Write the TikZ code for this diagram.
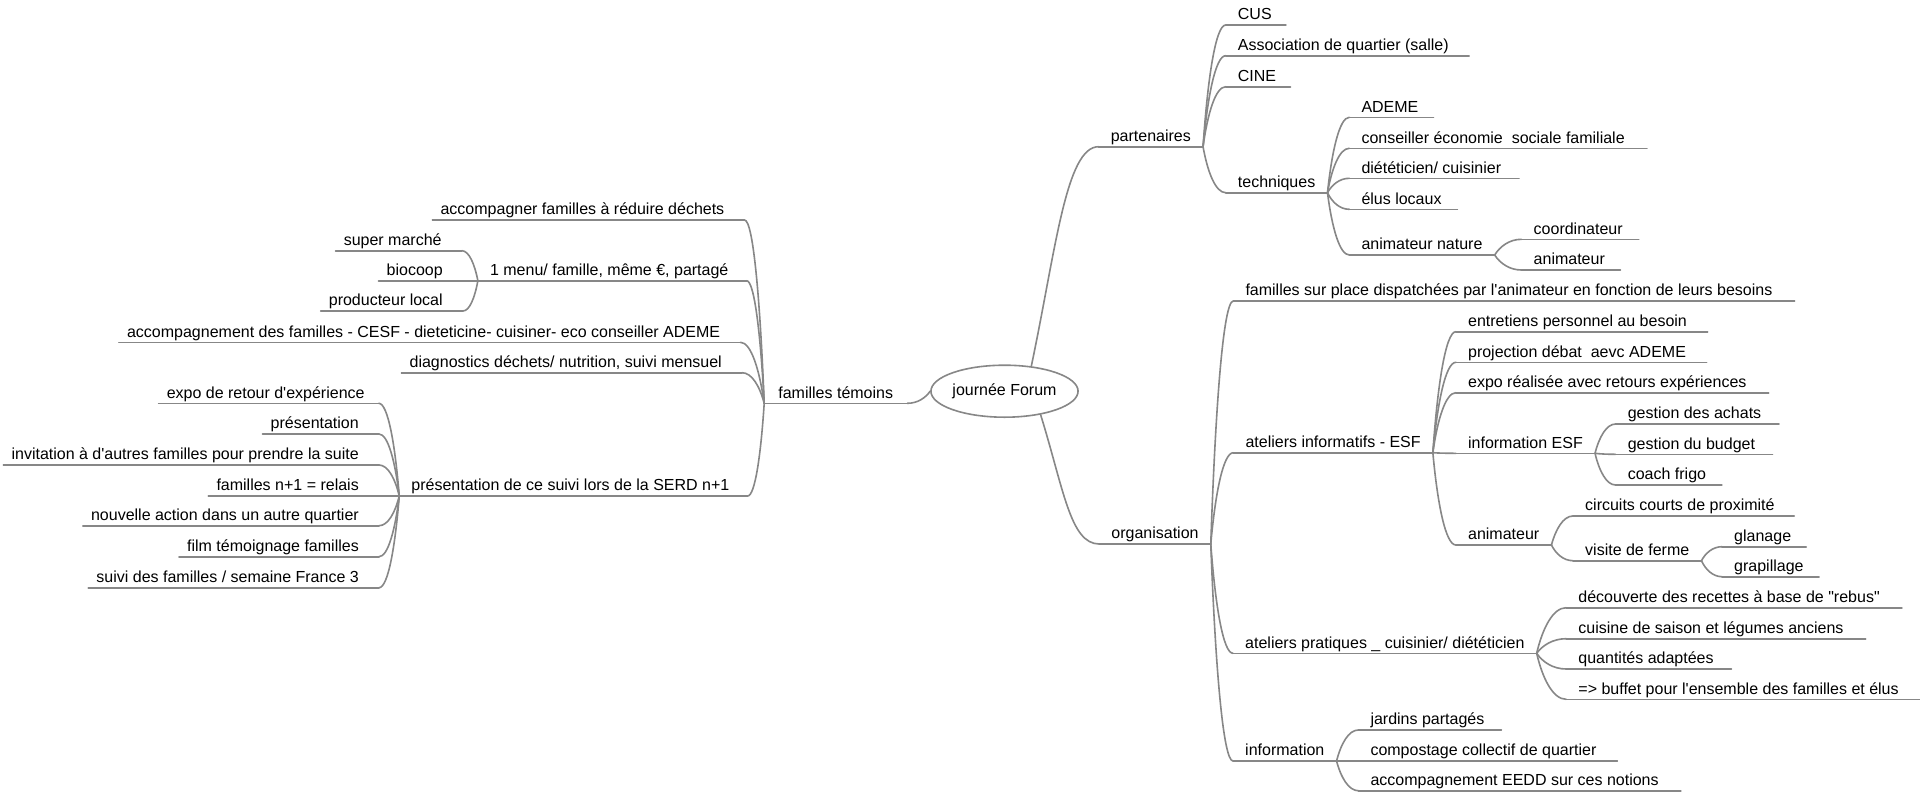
\documentclass[tikz,border=0pt]{standalone}
\usepackage{fontspec}
\newfontfamily\lsans{Liberation Sans}
\usetikzlibrary{calc,shapes.geometric}
\definecolor{linegray}{RGB}{135,135,135}
\tikzset{
  topic/.style={font=\lsans\fontsize{16}{19}\selectfont, text=black, inner xsep=12pt, inner ysep=1pt, text height=12pt, text depth=4pt, anchor=south west},
  ltopic/.style={topic, inner xsep=8pt, anchor=south east, execute at end node={\hspace*{12pt}}},
  lparent/.style={topic, inner xsep=12pt, anchor=south east, execute at end node={\hspace*{6pt}}},
  link/.style={draw=linegray, line width=1.6pt, line cap=round},
  rootnode/.style={draw=linegray, line width=1.6pt, ellipse, minimum width=139pt, minimum height=52pt, inner sep=0pt, font=\lsans\fontsize{16}{19}\selectfont, text=black}
}
\newcommand\conn[2]{\draw[link] let \p1=(#1), \p2=(#2) in (\p1) .. controls ({\x1+0.2*(\x2-\x1)},{\y1+0.55*(\y2-\y1)}) and ({\x2-0.45*(\x2-\x1)},\y2) .. (\p2);}
\newcommand\leafline[1]{\draw[link] let \p1=(#1.south west), \p2=(#1.south east) in (\p1) -- ({\x2+min(0.035*(\x2-\x1),10pt)},\y2);}
\begin{document}
\begin{tikzpicture}[x=1pt,y=-1pt]
\fill[white] (0,0) rectangle (1920,793);
\useasboundingbox (0,0) rectangle (1920,793);

% root
\node[rootnode] (root) at (1004.5,391.2) {journée Forum};

% ---------- right: partenaires ----------
\node[topic] (part) at (1098.6,146.7) {partenaires};
\node[topic] (cus) at (1225.7,25) {CUS};
\node[topic] (asso) at (1225.7,55.7) {Association de quartier (salle)};
\node[topic] (cine) at (1225.7,86.7) {CINE};
\node[topic] (tech) at (1225.7,192.7) {techniques};
\node[topic] (ademe) at (1349.3,117.3) {ADEME};
\node[topic] (cesf) at (1349.3,148.3) {conseiller économie~~sociale familiale};
\node[topic] (diet) at (1349.3,178.3) {diététicien/ cuisinier};
\node[topic] (elus) at (1349.3,209.3) {élus locaux};
\node[topic] (animnat) at (1349.3,255) {animateur nature};
\node[topic] (coord) at (1521.5,239.3) {coordinateur};
\node[topic] (animA) at (1521.5,270) {animateur};

% ---------- right: organisation ----------
\node[topic] (org) at (1099.2,544) {organisation};
\node[topic] (famplace) at (1233.3,301) {familles sur place dispatchées par l'animateur en fonction de leurs besoins};
\node[topic] (atinf) at (1233.3,452.7) {ateliers informatifs - ESF};
\node[topic] (entret) at (1455.9,331.7) {entretiens personnel au besoin};
\node[topic] (proj) at (1455.9,362.3) {projection débat~~aevc ADEME};
\node[topic] (expoB) at (1455.9,392.7) {expo réalisée avec retours expériences};
\node[topic] (infoesf) at (1455.9,453.3) {information ESF};
\node[topic] (achats) at (1615.6,424) {gestion des achats};
\node[topic] (budget) at (1615.6,454.3) {gestion du budget};
\node[topic] (frigo) at (1615.6,485) {coach frigo};
\node[topic] (animB) at (1455.9,545) {animateur};
\node[topic] (circ) at (1573,516) {circuits courts de proximité};
\node[topic] (visite) at (1573,560.7) {visite de ferme};
\node[topic] (glan) at (1722,546.7) {glanage};
\node[topic] (grap) at (1722,576.7) {grapillage};
\node[topic] (atprat) at (1233,653.3) {ateliers pratiques \_ cuisinier/ diététicien};
\node[topic] (decouv) at (1566.2,607.7) {découverte des recettes à base de "rebus"};
\node[topic] (cuisine) at (1566.2,638.7) {cuisine de saison et légumes anciens};
\node[topic] (quant) at (1566.2,669) {quantités adaptées};
\node[topic] (buffet) at (1566.2,699.3) {=> buffet pour l'ensemble des familles et élus};
\node[topic] (info) at (1233,761) {information};
\node[topic] (jardins) at (1358.3,730) {jardins partagés};
\node[topic] (compost) at (1358.3,761) {compostage collectif de quartier};
\node[topic] (eedd) at (1358.3,790.7) {accompagnement EEDD sur ces notions};

% ---------- left: familles temoins ----------
\node[topic, anchor=south east, inner xsep=14pt] (fam) at (907.3,403.3) {familles témoins};
\node[ltopic] (accA) at (744.5,220) {accompagner familles à réduire déchets};
\node[lparent] (menu) at (746.6,280.7) {1 menu/ famille, même €, partagé};
\node[ltopic] (accB) at (740.4,342.3) {accompagnement des familles - CESF - dieteticine- cuisiner- eco conseiller ADEME};
\node[ltopic] (diag) at (742,372.7) {diagnostics déchets/ nutrition, suivi mensuel};
\node[lparent] (pres) at (747.6,496) {présentation de ce suivi lors de la SERD n+1};
\node[ltopic] (sm) at (461.8,250.7) {super marché};
\node[ltopic] (bio) at (462.9,280.7) {biocoop};
\node[ltopic] (prod) at (462.9,311) {producteur local};
\node[topic, anchor=south east, inner xsep=8pt] (expA) at (378.8,403.3) {expo de retour d'expérience\hspace*{6pt}};
\node[ltopic] (pr) at (379,434) {présentation};
\node[ltopic] (inv) at (379,465) {invitation à d'autres familles pour prendre la suite};
\node[ltopic] (rel) at (379,496) {familles n+1 = relais};
\node[ltopic] (nouv) at (379,525.7) {nouvelle action dans un autre quartier};
\node[ltopic] (film) at (379,556.7) {film témoignage familles};
\node[ltopic] (suivi) at (379,587.7) {suivi des familles / semaine France 3};

% underlines of inner and left-side topics
\foreach \m in {part,tech,animnat,org,atinf,infoesf,animB,visite,atprat,info,
  fam,accA,menu,accB,diag,pres,sm,bio,prod,expA,pr,inv,rel,nouv,film,suivi}
  {\draw[link] (\m.south west) -- (\m.south east);}
% underlines of right-side leaves (run a little past the text)
\foreach \m in {cus,asso,cine,ademe,cesf,diet,elus,coord,animA,famplace,entret,proj,expoB,
  achats,budget,frigo,circ,glan,grap,decouv,cuisine,quant,buffet,jardins,compost,eedd}
  {\leafline{\m}}

% root connectors
\draw[link] (root.43) .. controls +(24.6,-116.9) and +(-32.6,0) .. (part.south west);
\draw[link] (root.-33) .. controls +(23,74) and +(-29,0) .. (org.south west);
\conn{root.west}{fam.south east}

% right connectors
\foreach \c in {cus,asso,cine,tech} {\conn{part.south east}{\c.south west}}
\foreach \c in {ademe,cesf,diet,elus,animnat} {\conn{tech.south east}{\c.south west}}
\foreach \c in {coord,animA} {\conn{animnat.south east}{\c.south west}}
\foreach \c in {famplace,atinf,atprat,info} {\conn{org.south east}{\c.south west}}
\foreach \c in {entret,proj,expoB,infoesf,animB} {\conn{atinf.south east}{\c.south west}}
\foreach \c in {achats,budget,frigo} {\conn{infoesf.south east}{\c.south west}}
\foreach \c in {circ,visite} {\conn{animB.south east}{\c.south west}}
\foreach \c in {glan,grap} {\conn{visite.south east}{\c.south west}}
\foreach \c in {decouv,cuisine,quant,buffet} {\conn{atprat.south east}{\c.south west}}
\foreach \c in {jardins,compost,eedd} {\conn{info.south east}{\c.south west}}

% left connectors
\foreach \c in {accA,menu,accB,diag,pres} {\conn{fam.south west}{\c.south east}}
\foreach \c in {sm,bio,prod} {\conn{menu.south west}{\c.south east}}
\foreach \c in {expA,pr,inv,rel,nouv,film,suivi} {\conn{pres.south west}{\c.south east}}
\end{tikzpicture}
\end{document}
